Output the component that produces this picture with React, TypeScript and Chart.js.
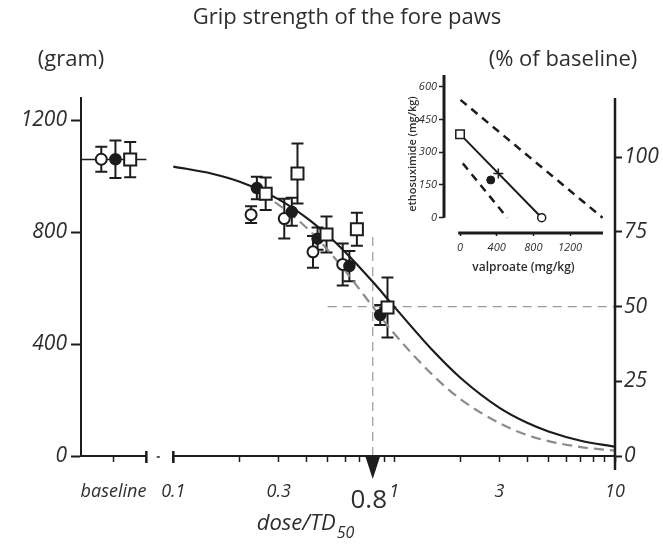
import React, { useEffect, useRef } from "react";
import { Chart, registerables } from "chart.js";

Chart.register(...registerables);

const FAMILY = "'Open Sans', 'DejaVu Sans', sans-serif";
const INK = "#1c1c1c";
const TEXT = "#2e2e2e";
const GREY = "#8c8c8c";

// Grip strength (gram), mean ± error; first entry of each series is its baseline
const OPEN_DOSE = [0.0472, 0.225, 0.318, 0.429, 0.585];
const OPEN_GRAM = [1061, 863, 849, 730, 685];
const OPEN_ERR = [45, 30, 71, 57, 75];

const FILLED_DOSE = [0.0547, 0.239, 0.344, 0.45, 0.627, 0.865];
const FILLED_GRAM = [1061, 958, 873, 777, 679, 504];
const FILLED_ERR = [67, 40, 50, 40, 54, 36];

const SQUARE_DOSE = [0.0638, 0.262, 0.365, 0.494, 0.678, 0.933];
const SQUARE_GRAM = [1060, 938, 1010, 792, 811, 531];
const SQUARE_ERR = [63, 58, 107, 64, 59, 107];

// 100 % of baseline in gram
const BASELINE_GRAM = 1068;
const BASELINE_LINE_DOSE = [0.0382, 0.0755];
const BASELINE_LINE_GRAM = [1060, 1060];

// Dose-response curves (% of baseline)
const SOLID_DOSE = [0.1, 0.15, 0.2, 0.3, 0.4, 0.5, 0.6, 0.8, 1, 1.5, 2, 3, 4, 5, 7, 10];
const SOLID_PCT = [96.9, 94.5, 91.8, 85.9, 79.8, 73.9, 68.3, 58.3, 50, 35.2, 26.1, 16.1, 11.1, 8.2, 5.1, 3.1];
const DASHED_DOSE = [0.25, 0.3, 0.4, 0.5, 0.6, 0.8, 1, 1.5, 2, 3, 4, 5, 7, 10];
const DASHED_PCT = [87.8, 84.1, 76.5, 69.0, 62.0, 50, 41.0, 27.0, 19.0, 11.0, 7.0, 5.0, 3.0, 1.8];

// Reference lines
const TD_VALUE = 0.8;
const TD_LINE_PCT = [0, 75];
const HALF_LINE_DOSE = [0.5, 10];
const HALF_LINE_PCT = [50, 50];

// Axes
const X_MIN = 0.0382;
const X_MAX = 10;
const BREAK_DOSE = [0.0755, 0.1];
const BREAK_DASH = 0.0855;
const X_TICKS = [0.0536, 0.1, 0.2, 0.3, 0.4, 0.5, 0.6, 0.7, 0.8, 0.9, 1, 2, 3, 4, 5, 6, 7, 8, 9, 10];
const X_TICK_LABELS: [number, string][] = [
  [0.0536, "baseline"],
  [0.1, "0.1"],
  [0.3, "0.3"],
  [1, "1"],
  [3, "3"],
  [10, "10"],
];
const GRAM_MAX = 1280;
const GRAM_TICKS = [0, 400, 800, 1200];
const PCT_TICKS = [0, 25, 50, 75, 100];

// Isobologram: valproate vs ethosuximide (mg/kg)
const ISOBOLE_VPA = [0, 891];
const ISOBOLE_ESM = [383, 0];
const CI_LOW_VPA = [30, 515];
const CI_LOW_ESM = [249, 0];
const CI_HIGH_VPA = [5, 1555];
const CI_HIGH_ESM = [540, 0];
const MIX_VPA = [335];
const MIX_ESM = [173];
const ADD_VPA = [418];
const ADD_ESM = [203];
const INSET_X_TICKS = [0, 400, 800, 1200];
const INSET_Y_TICKS = [0, 150, 300, 450, 600];
const INSET_X_RANGE = [-175, 1560];
const INSET_Y_RANGE = [-70, 654];
const INSET_X_LINE_START = -20;

const pts = (xs: number[], ys: number[]) => xs.map((x, i) => ({ x, y: ys[i] }));
const plain = (v: any) => String(v);

const errorBars = {
  id: "errorBars",
  beforeDatasetsDraw(chart: any) {
    const { ctx } = chart;
    chart.data.datasets.forEach((ds: any) => {
      const err = ds.errorBars;
      if (!err) return;
      const ys = chart.scales[ds.yAxisID || "y"];
      const xs = chart.scales.x;
      ctx.save();
      ctx.strokeStyle = INK;
      ctx.lineWidth = 2;
      ds.data.forEach((p: any, j: number) => {
        const x = xs.getPixelForValue(p.x);
        const y1 = ys.getPixelForValue(p.y + err[j]);
        const y2 = ys.getPixelForValue(p.y - err[j]);
        ctx.beginPath();
        ctx.moveTo(x, y1);
        ctx.lineTo(x, y2);
        ctx.moveTo(x - 6, y1);
        ctx.lineTo(x + 6, y1);
        ctx.moveTo(x - 6, y2);
        ctx.lineTo(x + 6, y2);
        ctx.stroke();
      });
      ctx.restore();
    });
  },
};

const mainDecor = {
  id: "mainDecor",
  afterDraw(chart: any) {
    const { ctx, chartArea, scales } = chart;
    const xs = scales.x;
    const y0 = scales.y.getPixelForValue(0);
    ctx.save();
    ctx.strokeStyle = INK;
    ctx.fillStyle = INK;

    // broken dose axis
    ctx.lineWidth = 2;
    ctx.beginPath();
    ctx.moveTo(chartArea.left, y0);
    ctx.lineTo(xs.getPixelForValue(BREAK_DOSE[0]), y0);
    ctx.moveTo(xs.getPixelForValue(BREAK_DOSE[1]), y0);
    ctx.lineTo(chartArea.right, y0);
    ctx.stroke();
    ctx.lineWidth = 2.5;
    ctx.beginPath();
    for (const d of BREAK_DOSE) {
      const px = xs.getPixelForValue(d);
      ctx.moveTo(px, y0 - 5);
      ctx.lineTo(px, y0 + 7);
    }
    ctx.stroke();
    const pd = xs.getPixelForValue(BREAK_DASH);
    ctx.lineWidth = 1.5;
    ctx.beginPath();
    ctx.moveTo(pd - 1.5, y0 + 1);
    ctx.lineTo(pd + 1.5, y0 + 1);
    ctx.stroke();

    // right (% of baseline) axis line
    ctx.lineWidth = 2.5;
    ctx.beginPath();
    ctx.moveTo(chartArea.right, chartArea.top);
    ctx.lineTo(chartArea.right, y0 + 14);
    ctx.stroke();

    // TD marker arrow and value
    const ax = xs.getPixelForValue(TD_VALUE);
    ctx.beginPath();
    ctx.moveTo(ax - 7.5, y0);
    ctx.lineTo(ax + 7.5, y0);
    ctx.lineTo(ax, y0 + 23);
    ctx.closePath();
    ctx.fill();
    ctx.fillStyle = TEXT;
    ctx.textAlign = "center";
    ctx.textBaseline = "middle";
    ctx.font = `500 26px ${FAMILY}`;
    ctx.fillText(String(TD_VALUE), ax - 4, y0 + 45);

    // dose axis title with subscript
    const mainT = "dose/TD";
    const subT = "50";
    ctx.font = `italic 22px ${FAMILY}`;
    const w1 = ctx.measureText(mainT).width;
    ctx.font = `italic 16px ${FAMILY}`;
    const w2 = ctx.measureText(subT).width;
    const sx = 305 - (w1 + w2) / 2;
    ctx.textAlign = "left";
    ctx.textBaseline = "alphabetic";
    ctx.font = `italic 22px ${FAMILY}`;
    ctx.fillText(mainT, sx, 530);
    ctx.font = `italic 16px ${FAMILY}`;
    ctx.fillText(subT, sx + w1 + 1, 538);

    // headings
    ctx.textAlign = "center";
    ctx.textBaseline = "middle";
    ctx.font = `22px ${FAMILY}`;
    ctx.fillText("Grip strength of the fore paws", 347, 18);
    ctx.fillText("(gram)", 71, 60);
    ctx.fillText("(% of baseline)", 563, 60);
    ctx.restore();
  },
};

const insetDecor = {
  id: "insetDecor",
  afterDraw(chart: any) {
    const { ctx, chartArea, scales } = chart;
    ctx.save();
    ctx.strokeStyle = INK;
    ctx.lineWidth = 3;
    ctx.beginPath();
    ctx.moveTo(chartArea.left, chartArea.top);
    ctx.lineTo(chartArea.left, scales.y.getPixelForValue(0));
    ctx.moveTo(scales.x.getPixelForValue(INSET_X_LINE_START), chartArea.bottom);
    ctx.lineTo(chartArea.right, chartArea.bottom);
    ctx.stroke();
    ctx.restore();
  },
};

export default function App() {
  const mainRef = useRef<HTMLCanvasElement>(null);
  const insetRef = useRef<HTMLCanvasElement>(null);

  useEffect(() => {
    Chart.defaults.font.family = FAMILY;

    const main = new Chart(mainRef.current as HTMLCanvasElement, {
      type: "scatter",
      data: {
        datasets: [
          {
            label: "square",
            data: pts(SQUARE_DOSE, SQUARE_GRAM),
            errorBars: SQUARE_ERR,
            yAxisID: "y",
            pointStyle: "rect",
            pointRadius: 8.5,
            backgroundColor: "#ffffff",
            borderColor: INK,
            borderWidth: 2,
          },
          {
            label: "filled",
            data: pts(FILLED_DOSE, FILLED_GRAM),
            errorBars: FILLED_ERR,
            yAxisID: "y",
            pointStyle: "circle",
            pointRadius: 5.5,
            backgroundColor: INK,
            borderColor: INK,
            borderWidth: 1.5,
          },
          {
            label: "open",
            data: pts(OPEN_DOSE, OPEN_GRAM),
            errorBars: OPEN_ERR,
            yAxisID: "y",
            pointStyle: "circle",
            pointRadius: 5.5,
            backgroundColor: "#ffffff",
            borderColor: INK,
            borderWidth: 2,
          },
          {
            label: "baseline",
            data: pts(BASELINE_LINE_DOSE, BASELINE_LINE_GRAM),
            yAxisID: "y",
            showLine: true,
            pointRadius: 0,
            borderColor: INK,
            borderWidth: 1.5,
          },
          {
            label: "fit",
            data: pts(SOLID_DOSE, SOLID_PCT),
            yAxisID: "pct",
            showLine: true,
            pointRadius: 0,
            borderColor: INK,
            borderWidth: 2.2,
            cubicInterpolationMode: "monotone",
          },
          {
            label: "fit 2",
            data: pts(DASHED_DOSE, DASHED_PCT),
            yAxisID: "pct",
            showLine: true,
            pointRadius: 0,
            borderColor: GREY,
            borderWidth: 2.2,
            borderDash: [10, 6],
            cubicInterpolationMode: "monotone",
          },
          {
            label: "TD",
            data: pts([TD_VALUE, TD_VALUE], TD_LINE_PCT),
            yAxisID: "pct",
            showLine: true,
            pointRadius: 0,
            borderColor: "#9a9a9a",
            borderWidth: 1.2,
            borderDash: [9, 6],
          },
          {
            label: "50 %",
            data: pts(HALF_LINE_DOSE, HALF_LINE_PCT),
            yAxisID: "pct",
            showLine: true,
            pointRadius: 0,
            borderColor: "#9a9a9a",
            borderWidth: 1.2,
            borderDash: [9, 6],
          },
        ],
      } as any,
      options: {
        animation: false,
        responsive: true,
        maintainAspectRatio: false,
        layout: { padding: { top: 98, left: 0, right: 0, bottom: 0 } },
        plugins: { legend: { display: false }, tooltip: { enabled: false } },
        scales: {
          x: {
            type: "logarithmic",
            min: X_MIN,
            max: X_MAX,
            afterBuildTicks: (s: any) => {
              s.ticks = X_TICKS.map((v) => ({ value: v }));
            },
            afterFit: (s: any) => {
              s.height = 88;
            },
            border: { display: false },
            grid: { drawOnChartArea: false, drawTicks: true, tickLength: 6, tickWidth: 1.5, tickColor: INK },
            ticks: {
              autoSkip: false,
              maxRotation: 0,
              minRotation: 0,
              padding: 19,
              color: TEXT,
              font: { size: 18, style: "italic" },
              callback: (v: any) => {
                const hit = X_TICK_LABELS.find(([t]) => Math.abs(t - Number(v)) < 1e-6);
                return hit ? hit[1] : "";
              },
            },
          },
          y: {
            type: "linear",
            position: "left",
            min: 0,
            max: GRAM_MAX,
            afterBuildTicks: (s: any) => {
              s.ticks = GRAM_TICKS.map((v) => ({ value: v }));
            },
            afterFit: (s: any) => {
              s.width = 81;
            },
            border: { display: true, color: INK, width: 2 },
            grid: { drawOnChartArea: false, tickLength: 10, tickWidth: 2, tickColor: INK },
            ticks: { padding: 4, color: TEXT, font: { size: 21, style: "italic" }, callback: plain },
          },
          pct: {
            type: "linear",
            position: "right",
            min: 0,
            max: (GRAM_MAX / BASELINE_GRAM) * 100,
            afterBuildTicks: (s: any) => {
              s.ticks = PCT_TICKS.map((v) => ({ value: v }));
            },
            afterFit: (s: any) => {
              s.width = 48;
            },
            border: { display: false },
            grid: { drawOnChartArea: false, tickLength: 7, tickWidth: 2, tickColor: INK },
            ticks: { padding: 2, color: TEXT, font: { size: 21, style: "italic" }, callback: plain },
          },
        },
      } as any,
      plugins: [errorBars, mainDecor],
    });

    const inset = new Chart(insetRef.current as HTMLCanvasElement, {
      type: "scatter",
      data: {
        datasets: [
          {
            label: "ethosuximide alone",
            data: pts([ISOBOLE_VPA[0]], [ISOBOLE_ESM[0]]),
            pointStyle: "rect",
            pointRadius: 6,
            backgroundColor: "#ffffff",
            borderColor: INK,
            borderWidth: 1.5,
          },
          {
            label: "valproate alone",
            data: pts([ISOBOLE_VPA[1]], [ISOBOLE_ESM[1]]),
            pointStyle: "circle",
            pointRadius: 4,
            backgroundColor: "#ffffff",
            borderColor: INK,
            borderWidth: 1.5,
          },
          {
            label: "mixture",
            data: pts(MIX_VPA, MIX_ESM),
            pointStyle: "circle",
            pointRadius: 4,
            backgroundColor: INK,
            borderColor: INK,
            borderWidth: 1,
          },
          {
            label: "additive",
            data: pts(ADD_VPA, ADD_ESM),
            pointStyle: "cross",
            pointRadius: 5,
            borderColor: INK,
            borderWidth: 1.5,
          },
          {
            label: "isobole",
            data: pts(ISOBOLE_VPA, ISOBOLE_ESM),
            showLine: true,
            pointRadius: 0,
            borderColor: INK,
            borderWidth: 2,
          },
          {
            label: "lower limit",
            data: pts(CI_LOW_VPA, CI_LOW_ESM),
            showLine: true,
            pointRadius: 0,
            borderColor: INK,
            borderWidth: 2.5,
            borderDash: [8, 6],
          },
          {
            label: "upper limit",
            data: pts(CI_HIGH_VPA, CI_HIGH_ESM),
            showLine: true,
            pointRadius: 0,
            borderColor: INK,
            borderWidth: 2.5,
            borderDash: [8, 6],
          },
        ],
      } as any,
      options: {
        animation: false,
        responsive: true,
        maintainAspectRatio: false,
        layout: { padding: { top: 15, right: 17, left: 0, bottom: 0 } },
        plugins: { legend: { display: false }, tooltip: { enabled: false } },
        scales: {
          x: {
            type: "linear",
            min: INSET_X_RANGE[0],
            max: INSET_X_RANGE[1],
            afterBuildTicks: (s: any) => {
              s.ticks = INSET_X_TICKS.map((v) => ({ value: v }));
            },
            afterFit: (s: any) => {
              s.height = 57;
            },
            border: { display: false },
            grid: { drawOnChartArea: false, tickLength: 3, tickWidth: 1.5, tickColor: INK },
            ticks: { padding: 5, color: TEXT, font: { size: 11, style: "italic" }, callback: plain },
            title: {
              display: true,
              text: "valproate (mg/kg)",
              color: TEXT,
              font: { size: 12, weight: "600" },
              padding: { top: 0, bottom: 15 },
            },
          },
          y: {
            type: "linear",
            min: INSET_Y_RANGE[0],
            max: INSET_Y_RANGE[1],
            afterBuildTicks: (s: any) => {
              s.ticks = INSET_Y_TICKS.map((v) => ({ value: v }));
            },
            afterFit: (s: any) => {
              s.width = 64;
            },
            border: { display: false },
            grid: { drawOnChartArea: false, tickLength: 5, tickWidth: 1.5, tickColor: INK },
            ticks: { padding: 2, color: TEXT, font: { size: 11, style: "italic" }, callback: plain },
            title: {
              display: true,
              text: "ethosuximide (mg/kg)",
              color: TEXT,
              font: { size: 11, weight: "600" },
              padding: { top: 26, bottom: 0 },
            },
          },
        },
      } as any,
      plugins: [insetDecor],
    });

    return () => {
      main.destroy();
      inset.destroy();
    };
  }, []);

  return (
    <div style={{ position: "fixed", left: 0, top: 0, width: 663, height: 544, background: "#ffffff" }}>
      <div style={{ position: "absolute", left: 0, top: 0, width: 663, height: 544 }}>
        <canvas ref={mainRef} />
      </div>
      <div style={{ position: "absolute", left: 380, top: 60, width: 240, height: 230 }}>
        <canvas ref={insetRef} />
      </div>
    </div>
  );
}
